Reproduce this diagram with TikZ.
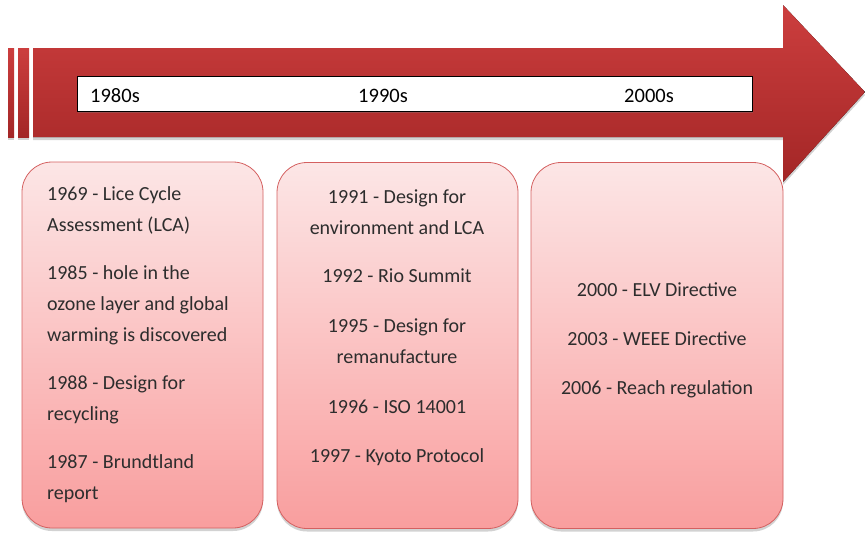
\documentclass[tikz,border=0pt]{standalone}
\usepackage{fontspec}
\setmainfont{Carlito}
\usetikzlibrary{shadows}
\definecolor{arrowtop}{RGB}{204,62,62}
\definecolor{arrowbot}{RGB}{163,38,38}
\definecolor{boxtop}{RGB}{252,230,230}
\definecolor{boxbot}{RGB}{249,158,158}
\definecolor{boxedge}{RGB}{212,96,96}
\definecolor{itemtext}{RGB}{45,45,45}
\begin{document}
\begin{tikzpicture}[x=1pt,y=-1pt,
  arrowfill/.style={top color=arrowtop,bottom color=arrowbot},
  softshadow/.style={drop shadow={shadow xshift=0pt,shadow yshift=-3pt,opacity=0.25,fill=black!70}},
  itembox/.style={draw=boxedge,line width=0.8pt,rounded corners=30pt,
    top color=boxtop,bottom color=boxbot,minimum height=366pt,inner sep=0pt,softshadow},
  itemtext/.style={inner sep=0pt,text=itemtext,font=\fontsize{20}{31}\selectfont},
  decade/.style={inner sep=0pt,anchor=base,font=\fontsize{20.5}{24}\selectfont}]
\useasboundingbox (0,0) rectangle (865,539);

% timeline arrow with its two leading stripes
\fill[arrowfill,softshadow] (8,48) rectangle (14,137);
\fill[arrowfill,softshadow] (18,48) rectangle (29,137);
\fill[arrowfill,softshadow] (33,48) -- (783,48) -- (783,5) -- (865,92)
  -- (783,182) -- (783,137) -- (33,137) -- cycle;

% decade band
\node[draw=black,line width=1pt,fill=white,minimum width=675pt,minimum height=35pt,
  inner sep=0pt,drop shadow={shadow xshift=1pt,shadow yshift=-1.5pt,opacity=0.35}]
  (band) at (414.5,93.5) {};
\node[decade] (d80) at (115,102) {1980s};
\node[decade] (d90) at (383,102) {1990s};
\node[decade] (d00) at (649,102) {2000s};

% event boxes
\node[itembox,minimum width=241pt] (b1) at (142.5,345) {};
\node[itembox,minimum width=241pt] (b2) at (397.5,345.5) {};
\node[itembox,minimum width=252pt] (b3) at (657,345.5) {};

\node[itemtext,anchor=north west,align=left] (t1) at (47,186) {%
  1969 - Lice Cycle\\ Assessment (LCA)\\[17pt]
  1985 - hole in the\\ ozone layer and global\\ warming is discovered\\[17pt]
  1988 - Design for\\ recycling\\[17pt]
  1987 - Brundtland\\ report};
\node[itemtext,anchor=north,align=center] (t2) at (397,190) {%
  1991 - Design for\\ environment and LCA\\[17pt]
  1992 - Rio Summit\\[19pt]
  1995 - Design for\\ remanufacture\\[19pt]
  1996 - ISO 14001\\[18pt]
  1997 - Kyoto Protocol};
\node[itemtext,anchor=north,align=center] (t3) at (657,282) {%
  2000 - ELV Directive\\[18pt]
  2003 - WEEE Directive\\[18pt]
  2006 - Reach regulation};
\end{tikzpicture}
\end{document}
